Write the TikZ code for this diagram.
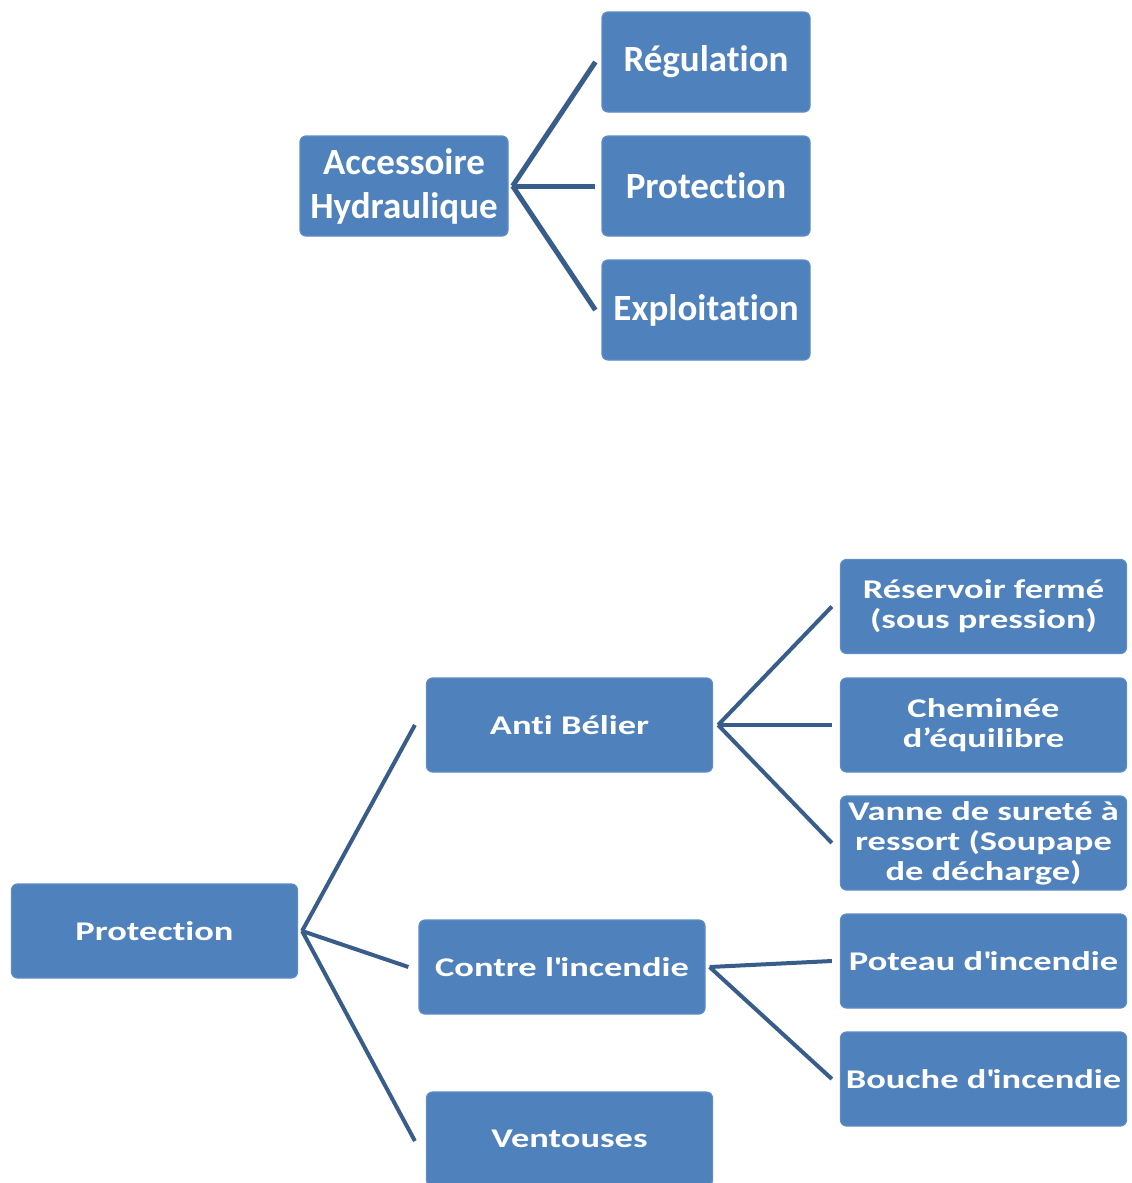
\documentclass[tikz,border=0pt]{standalone}
\usepackage{fontspec}
\setmainfont[Ligatures={NoCommon}]{Carlito}
\newfontfamily\largefont[FakeStretch=1.35, Ligatures={NoCommon}]{Carlito}
\definecolor{blocbleu}{HTML}{4F81BD}
\definecolor{bordbleu}{HTML}{5E8CC4}
\definecolor{lienbleu}{HTML}{385D8A}

\tikzset{
    bloc/.style={rectangle, rounded corners=3pt, fill=blocbleu, draw=bordbleu, line width=0.6pt,
        text=white, align=center, inner sep=1pt,
        font=\bfseries\fontsize{18.5}{22}\selectfont, minimum width=104pt, minimum height=50pt},
    petitbloc/.style={bloc, font=\largefont\bfseries\fontsize{13.5}{15}\selectfont,
        minimum width=143pt, minimum height=47pt},
    lien/.style={draw=lienbleu, line width=2.5pt},
    petitlien/.style={draw=lienbleu, line width=2pt}
}

\begin{document}
\begin{tikzpicture}[x=0.5pt, y=-0.5pt]
    \useasboundingbox (0,0) rectangle (1131,1183);
    \clip (0,0) rectangle (1131,1183);
    % premier arbre
    \path node[bloc] (acc) at (404,186) {Accessoire\\Hydraulique}
        node[bloc] (reg) at (706,62) {Régulation}
        node[bloc] (prot) at (706,186) {Protection}
        node[bloc] (expl) at (706,310) {Exploitation};
    \foreach \fils in {reg, prot, expl}
        \draw[lien] ([xshift=2pt]acc.east) -- ([xshift=-3pt]\fils.west);
    % second arbre
    \path node[petitbloc] (protb) at (154.5,931) {Protection}
        node[petitbloc] (anti) at (569.5,725) {Anti Bélier}
        node[petitbloc] (contre) at (562,967) {Contre l\textquotesingle incendie}
        node[petitbloc] (vent) at (569.5,1139) {Ventouses}
        node[petitbloc] (res) at (983.5,606.5) {Réservoir fermé\\(sous pression)}
        node[petitbloc] (chem) at (983.5,725) {Cheminée\\d’équilibre}
        node[petitbloc, inner sep=0pt] (vanne) at (983.5,843) {Vanne de sureté à\\ressort (Soupape\\de décharge)}
        node[petitbloc] (poteau) at (983.5,961) {Poteau d\textquotesingle incendie}
        node[petitbloc] (bouche) at (983.5,1079) {Bouche d\textquotesingle incendie};
    \draw[petitlien] ([xshift=2pt]protb.east) -- ([xshift=-5.5pt]anti.west);
    \draw[petitlien] ([xshift=2pt]protb.east) -- ([xshift=-5pt]contre.west);
    \draw[petitlien] ([xshift=2pt]protb.east) -- ([xshift=-5.5pt, yshift=-1pt]vent.west);
    \foreach \fils in {res, chem, vanne}
        \draw[petitlien] ([xshift=2.5pt]anti.east) -- ([xshift=-4pt]\fils.west);
    \draw[petitlien] ([xshift=2pt]contre.east) -- ([xshift=-4pt]poteau.west);
    \draw[petitlien] ([xshift=2pt]contre.east) -- ([xshift=-4pt]bouche.west);
\end{tikzpicture}
\end{document}
